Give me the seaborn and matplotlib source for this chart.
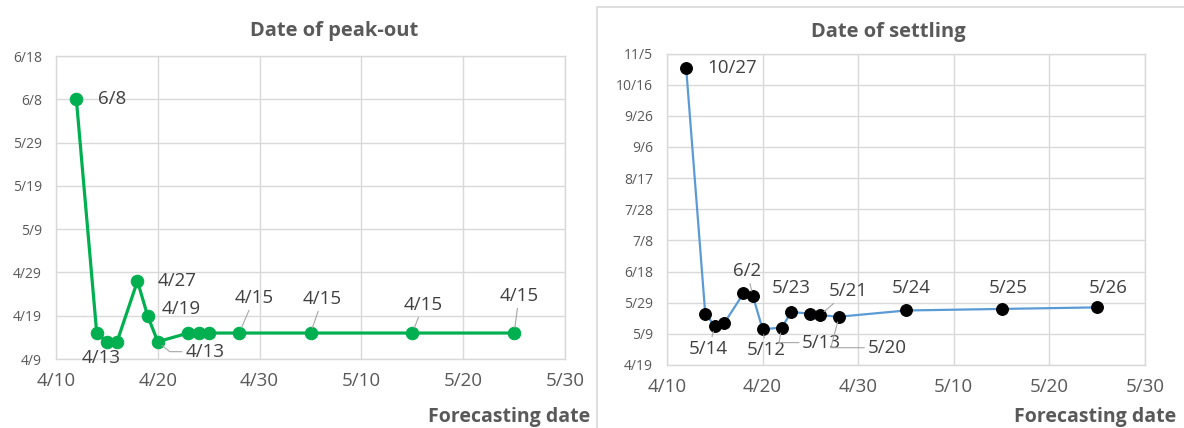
import matplotlib
matplotlib.use("Agg")
import matplotlib.pyplot as plt
import matplotlib.dates as mdates
from matplotlib.patches import Rectangle
import seaborn as sns
import pandas as pd

# forecasting dates (x) and forecast values (y), year 2020
peak_x = ['4/12', '4/14', '4/15', '4/16', '4/18', '4/19', '4/20',
          '4/23', '4/24', '4/25', '4/28', '5/5', '5/15', '5/25']
peak_y = ['6/8', '4/15', '4/13', '4/13', '4/27', '4/19', '4/13',
          '4/15', '4/15', '4/15', '4/15', '4/15', '4/15', '4/15']

settle_x = ['4/12', '4/14', '4/15', '4/16', '4/18', '4/19', '4/20', '4/22',
            '4/23', '4/25', '4/26', '4/28', '5/5', '5/15', '5/25']
settle_y = ['10/27', '5/22', '5/14', '5/16', '6/4', '6/2', '5/12', '5/13',
            '5/23', '5/22', '5/21', '5/20', '5/24', '5/25', '5/26']

# which points get a data label, and label offsets in pixels (dx, dy, leader)
peak_labels = {0: (36, 0, None), 2: (-6, -16, None), 4: (40, 0, None),
               5: (34, 7, None), 6: (47, -10, 'angle,angleA=0,angleB=-40,rad=0'),
               10: (15, 35, 'arc3'), 11: (12, 34, 'arc3'),
               12: (11, 28, 'arc3'), 13: (5, 37, 'arc3')}
settle_labels = {0: (46, 0, None), 2: (-6, -23, 'arc3'), 5: (-6, 25, 'arc3'),
                 6: (4, -21, 'arc3'),
                 7: (40, -15, 'angle,angleA=0,angleB=80,rad=0'),
                 8: (0, 24, None), 10: (28, 24, 'arc3'),
                 11: (48, -31, 'angle,angleA=0,angleB=75,rad=0'),
                 12: (5, 22, None), 13: (7, 21, None), 14: (11, 19, None)}


def to_dates(lst):
    return pd.to_datetime(['2020/' + s for s in lst], format='%Y/%m/%d')


GRID = '#D9D9D9'
TXT = '#595959'
LBL = '#404040'

sns.set_style('white')
plt.rcParams['font.family'] = ['Open Sans', 'DejaVu Sans']

fig = plt.figure(figsize=(11.84, 4.28), dpi=100)
ax1 = fig.add_axes([56 / 1184, 69 / 428, 509 / 1184, 303 / 428])
ax2 = fig.add_axes([667 / 1184, 63 / 428, 478 / 1184, 311.5 / 428])


def draw(ax, xs, ys, color, mcolor, lw, ms, ylim, ystep, labels):
    df = pd.DataFrame({'x': mdates.date2num(to_dates(xs)),
                       'y': mdates.date2num(to_dates(ys))})
    sns.lineplot(data=df, x='x', y='y', ax=ax, color=color, lw=lw,
                 marker='o', markersize=ms, markerfacecolor=mcolor,
                 markeredgecolor=mcolor, sort=False)
    x0 = mdates.date2num(pd.Timestamp('2020-04-10'))
    ax.set_xlim(x0, x0 + 50)
    ax.set_xticks([x0 + 10 * i for i in range(6)])
    y0 = mdates.date2num(pd.Timestamp(ylim[0]))
    y1 = mdates.date2num(pd.Timestamp(ylim[1]))
    ax.set_ylim(y0, y1)
    ax.set_yticks([y0 + ystep * i for i in range(int((y1 - y0) / ystep) + 1)])
    fmt = mdates.DateFormatter('%-m/%-d')
    ax.xaxis.set_major_formatter(fmt)
    ax.yaxis.set_major_formatter(fmt)
    ax.grid(True, color=GRID, lw=1)
    ax.set_axisbelow(True)
    for s in ax.spines.values():
        s.set_color(GRID)
        s.set_linewidth(1)
    ax.tick_params(axis='x', length=0, pad=9, labelsize=13.5, labelcolor=TXT)
    ax.tick_params(axis='y', length=0, pad=10, labelsize=10, labelcolor=TXT)
    ax.set_xlabel('')
    ax.set_ylabel('')
    for i, (dx, dy, conn) in labels.items():
        xy = (df['x'][i], df['y'][i])
        text = ys[i]
        kw = {}
        if conn:
            kw['arrowprops'] = dict(arrowstyle='-', color='#A6A6A6', lw=0.8,
                                    connectionstyle=conn, shrinkA=0, shrinkB=4)
        ax.annotate(text, xy=xy, xytext=(dx * 0.72, dy * 0.72),
                    textcoords='offset points', ha='center', va='center',
                    fontsize=13.5, color=LBL, **kw)


draw(ax1, peak_x, peak_y, '#00B050', '#00B050', 2.3, 9,
     ('2020-04-09', '2020-06-18'), 10, peak_labels)
draw(ax2, settle_x, settle_y, '#5B9BD5', 'black', 1.6, 8.5,
     ('2020-04-19', '2020-11-05'), 20, settle_labels)

fig.text(334 / 1184, 1 - 31 / 428, 'Date of peak-out', ha='center',
         va='center', fontsize=14.5, fontweight='bold', color=TXT)
fig.text(888 / 1184, 1 - 32 / 428, 'Date of settling', ha='center',
         va='center', fontsize=14.5, fontweight='bold', color=TXT)
fig.text(590 / 1184, 11 / 428, 'Forecasting date', ha='right',
         va='center', fontsize=14, fontweight='bold', color=TXT)
fig.text(1176 / 1184, 11 / 428, 'Forecasting date', ha='right',
         va='center', fontsize=14, fontweight='bold', color=TXT)

fig.patches.append(Rectangle((597 / 1184, -0.1), 0.6, 1 - 7 / 428 + 0.1,
                             transform=fig.transFigure, fill=False,
                             edgecolor=GRID, lw=1.2))

fig.savefig('out.png', dpi=100)
